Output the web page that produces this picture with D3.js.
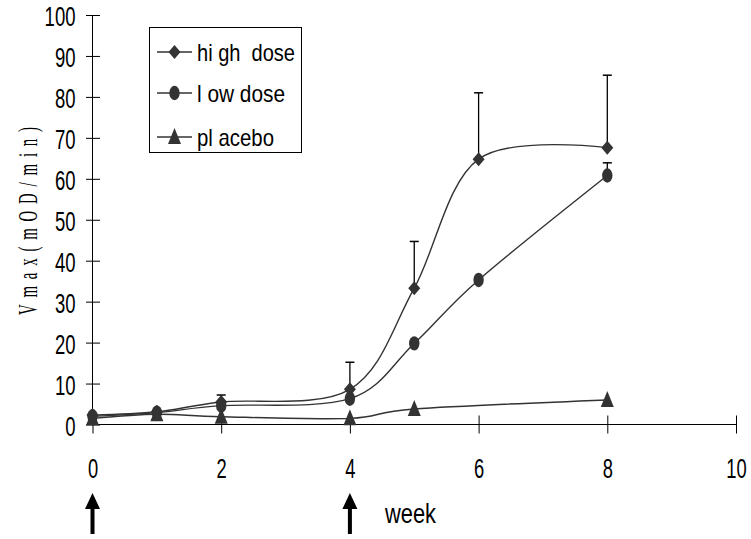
<!DOCTYPE html>
<html><head><meta charset="utf-8">
<script src="https://cdn.jsdelivr.net/npm/d3@7"></script>
<style>
html,body{margin:0;padding:0;background:#fff;}
text{font-family:"Liberation Sans",Arial,sans-serif;fill:#000;}
</style></head>
<body>
<svg id="chart" width="751" height="539"></svg>
<script>
// ---- data ----
const highWeeks = [0, 1, 2, 4, 5, 6, 8];
const highValues = [2.3, 3.1, 5.5, 8.6, 33.3, 64.8, 67.6];
const highErrors = [0, 0, 1.7, 6.6, 11.4, 16.2, 17.7];

const lowWeeks = [0, 1, 2, 4, 5, 6, 8];
const lowValues = [2.0, 2.9, 4.6, 6.3, 19.8, 35.3, 60.8];
const lowErrors = [0, 0, 0, 0, 0, 0, 3.1];

const placeboWeeks = [0, 1, 2, 4, 5, 8];
const placeboValues = [1.5, 2.5, 1.9, 1.5, 3.8, 6.0];
const placeboErrors = [0, 0, 0, 0, 0, 0];

const seriesNames = ["hi gh  dose", "l ow dose", "pl acebo"];
const xTicks = [0, 2, 4, 6, 8, 10];
const yTicks = [0, 10, 20, 30, 40, 50, 60, 70, 80, 90, 100];
const arrowWeeks = [0, 4];
const yLabel = "Vmax(mOD/min)";
const xLabel = "week";

// ---- drawing ----
const svg = d3.select("#chart");
const x = d3.scaleLinear().domain([0, 10]).range([92.5, 736]);
const y = d3.scaleLinear().domain([0, 100]).range([424.5, 15]);
const ink = "#333";

const series = [
  {name: seriesNames[0], weeks: highWeeks, values: highValues, errors: highErrors, shape: "diamond"},
  {name: seriesNames[1], weeks: lowWeeks, values: lowValues, errors: lowErrors, shape: "circle"},
  {name: seriesNames[2], weeks: placeboWeeks, values: placeboValues, errors: placeboErrors, shape: "triangle"}
];

function marker(g, shape, cx, cy) {
  if (shape === "circle") {
    g.append("ellipse").attr("cx", cx).attr("cy", cy).attr("rx", 5.2).attr("ry", 7.2).attr("fill", ink);
  } else if (shape === "diamond") {
    g.append("path").attr("d", `M${cx},${cy-7}L${cx+6},${cy}L${cx},${cy+7}L${cx-6},${cy}Z`).attr("fill", ink);
  } else {
    g.append("path").attr("d", `M${cx},${cy-9}L${cx+6.5},${cy+7}L${cx-6.5},${cy+7}Z`).attr("fill", ink);
  }
}

// axes
const yAxis = svg.append("g").attr("transform", `translate(${x(0)},0)`)
  .call(d3.axisLeft(y).tickValues(yTicks).tickSize(6).tickPadding(11));
yAxis.select(".domain").attr("stroke", "#000").attr("d", `M0,${y(0)}V${y(100)}`);
yAxis.selectAll(".tick line").attr("x1", -6.5).attr("x2", 7.5).attr("stroke", "#000");
yAxis.selectAll(".tick text")
  .attr("font-size", 28).attr("font-family", "Liberation Sans, Arial, sans-serif")
  .attr("dy", "0.38em")
  .attr("textLength", d => String(d).length * 10.3)
  .attr("lengthAdjust", "spacingAndGlyphs");

const xAxis = svg.append("g").attr("transform", `translate(0,${y(0)})`)
  .call(d3.axisBottom(x).tickValues(xTicks).tickSize(9).tickPadding(0));
xAxis.select(".domain").attr("stroke", "#000").attr("d", `M${x(0)},0H${x(10)}`);
xAxis.selectAll(".tick line").attr("y1", -9).attr("y2", 9).attr("stroke", "#000");
xAxis.selectAll(".tick text")
  .attr("font-size", 28).attr("font-family", "Liberation Sans, Arial, sans-serif")
  .attr("y", 53).attr("dy", 0)
  .attr("textLength", d => String(d).length * 10.2)
  .attr("lengthAdjust", "spacingAndGlyphs");

// lines
const line = d3.line().x(d => x(d[0])).y(d => y(d[1])).curve(d3.curveCardinal.tension(0));
const plot = svg.append("g");
series.forEach(s => {
  const pts = s.weeks.map((w, i) => [w, s.values[i]]);
  plot.append("path").attr("d", line(pts)).attr("fill", "none").attr("stroke", ink).attr("stroke-width", 1.4);
});
// error bars
series.forEach(s => {
  s.weeks.forEach((w, i) => {
    if (!s.errors[i]) return;
    const top = y(s.values[i] + s.errors[i]);
    plot.append("line").attr("x1", x(w)).attr("x2", x(w)).attr("y1", y(s.values[i])).attr("y2", top)
      .attr("stroke", "#000").attr("stroke-width", 1.3);
    plot.append("line").attr("x1", x(w) - 4.5).attr("x2", x(w) + 4.5).attr("y1", top).attr("y2", top)
      .attr("stroke", "#000").attr("stroke-width", 1.5);
  });
});
// markers
series.forEach(s => {
  const g = plot.append("g");
  s.weeks.forEach((w, i) => marker(g, s.shape, x(w), y(s.values[i])));
});

// legend
const lg = svg.append("g");
lg.append("rect").attr("x", 149.5).attr("y", 27.5).attr("width", 152).attr("height", 125)
  .attr("fill", "#fff").attr("stroke", "#000").attr("stroke-width", 1);
const legendY = [52, 93, 137];
const legendW = [98, 88, 77];
series.forEach((s, i) => {
  const cy = legendY[i];
  lg.append("line").attr("x1", 157).attr("x2", 192).attr("y1", cy).attr("y2", cy).attr("stroke", ink).attr("stroke-width", 1.4);
  marker(lg, s.shape, 174.5, cy);
  lg.append("text").attr("x", 197).attr("y", cy + 8.5).attr("font-size", 24)
    .attr("xml:space", "preserve").style("white-space", "pre")
    .attr("textLength", legendW[i]).attr("lengthAdjust", "spacingAndGlyphs")
    .text(s.name);
});

// y label
svg.append("g").attr("transform", "translate(37,221) rotate(-90)")
  .append("text").attr("transform", "scale(0.55,1)")
  .attr("text-anchor", "middle")
  .attr("font-family", "Liberation Serif, Times New Roman, serif").attr("font-size", 27)
  .style("font-family", "'Liberation Serif', serif")
  .attr("textLength", 188 / 0.55).attr("lengthAdjust", "spacing")
  .text(yLabel);

// x label
svg.append("text").attr("x", 385).attr("y", 523).attr("font-size", 28)
  .attr("textLength", 51).attr("lengthAdjust", "spacingAndGlyphs").text(xLabel);

// arrows
arrowWeeks.forEach(w => {
  const cx = x(w), tip = 493, bottom = 534;
  svg.append("path")
    .attr("d", `M${cx},${tip}L${cx+7.5},${tip+16}L${cx+2},${tip+16}L${cx+2},${bottom}L${cx-2},${bottom}L${cx-2},${tip+16}L${cx-7.5},${tip+16}Z`)
    .attr("fill", "#000");
});
</script>
</body></html>
